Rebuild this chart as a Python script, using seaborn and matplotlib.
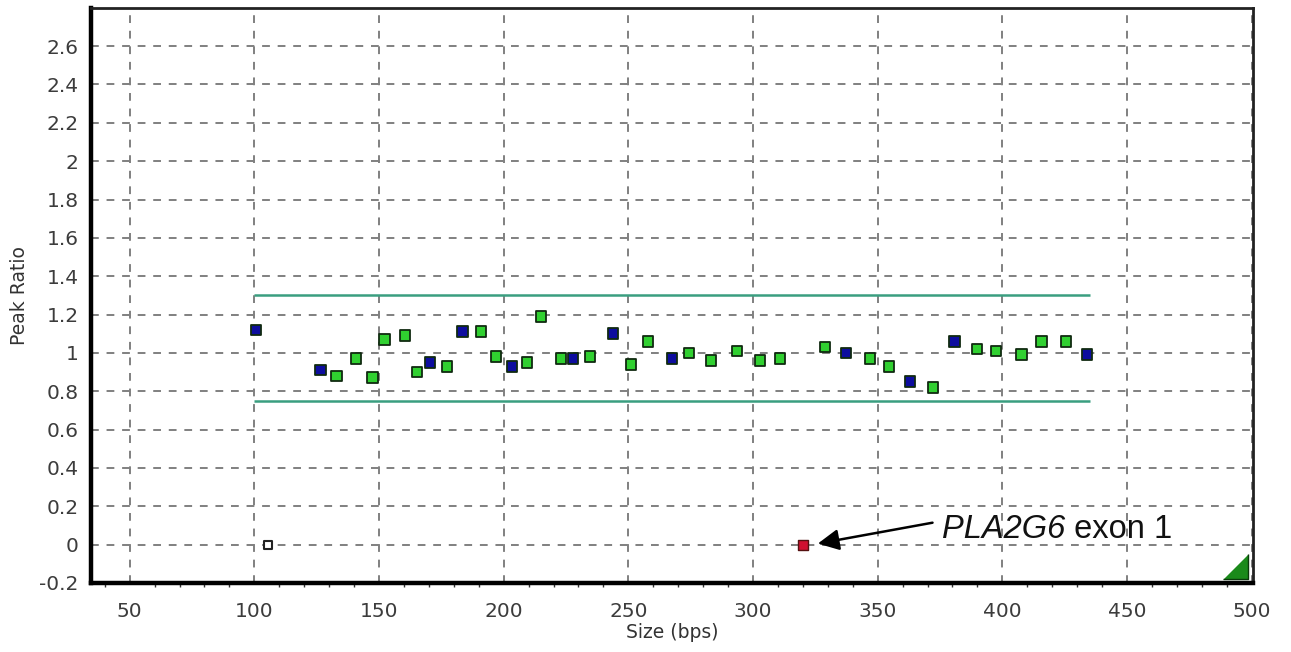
import numpy as np
import pandas as pd
import matplotlib
matplotlib.use("Agg")
import matplotlib.pyplot as plt
import seaborn as sns

# 프로브 크기(bp)와 peak ratio
size_bp = [100.6, 126.6, 133.0, 140.7, 147.5, 152.3, 160.4, 165.2, 170.4, 177.2,
           183.6, 190.9, 196.9, 203.3, 209.3, 214.9, 223.0, 227.8, 234.6, 243.8,
           251.0, 257.9, 267.5, 274.3, 283.1, 293.6, 302.8, 310.8, 328.9, 337.3,
           346.9, 354.6, 363.0, 372.2, 380.7, 389.9, 397.5, 407.6, 415.6, 425.6,
           434.0]
peak_ratio = [1.12, 0.91, 0.88, 0.97, 0.87, 1.07, 1.09, 0.90, 0.95, 0.93,
              1.11, 1.11, 0.98, 0.93, 0.95, 1.19, 0.97, 0.97, 0.98, 1.10,
              0.94, 1.06, 0.97, 1.00, 0.96, 1.01, 0.96, 0.97, 1.03, 1.00,
              0.97, 0.93, 0.85, 0.82, 1.06, 1.02, 1.01, 0.99, 1.06, 1.06,
              0.99]
probe_type = ['ref', 'ref', 'test', 'test', 'test', 'test', 'test', 'test', 'ref', 'test',
              'ref', 'test', 'test', 'ref', 'test', 'test', 'test', 'ref', 'test', 'ref',
              'test', 'test', 'ref', 'test', 'test', 'test', 'test', 'test', 'test', 'ref',
              'test', 'test', 'ref', 'test', 'ref', 'test', 'test', 'test', 'test', 'test',
              'ref']

# 결실 프로브 / 빈 프로브
deleted_x, deleted_y = [320.0], [0.0]
empty_x, empty_y = [105.4], [0.0]

# 기준선
upper_limit = 1.3
lower_limit = 0.75
limit_start, limit_end = 100, 435

x_ticks = [50, 100, 150, 200, 250, 300, 350, 400, 450, 500]
y_ticks = [-0.2, 0, 0.2, 0.4, 0.6, 0.8, 1, 1.2, 1.4, 1.6, 1.8, 2, 2.2, 2.4, 2.6]
y_tick_labels = ['-0.2', '0', '0.2', '0.4', '0.6', '0.8', '1', '1.2', '1.4', '1.6',
                 '1.8', '2', '2.2', '2.4', '2.6']

df = pd.DataFrame({'size': size_bp, 'ratio': peak_ratio, 'type': probe_type})

sns.set_style("white")
plt.rcParams['font.family'] = ['DejaVu Sans']

fig = plt.figure(figsize=(12.91, 6.52), dpi=100)
ax = fig.add_axes([0.0705, 0.106, 0.9, 0.882])

# 격자
ax.set_axisbelow(True)
ax.grid(True, color='#808080', linestyle=(0, (4, 4)), linewidth=1.4)

# 기준선
ax.hlines([upper_limit, lower_limit], limit_start, limit_end, color='#3a9e80', linewidth=1.8, zorder=2)

# 데이터 포인트
sns.scatterplot(data=df, x='size', y='ratio', hue='type', marker='s', s=58,
                palette={'ref': '#0d0d9e', 'test': '#30d030'},
                edgecolor='#102a10', linewidth=1.3, legend=False, ax=ax, zorder=3)
ax.scatter(empty_x, empty_y, marker='s', s=40, facecolor='white', edgecolor='#222222',
           linewidth=1.5, zorder=3)
ax.scatter(deleted_x, deleted_y, marker='s', s=45, facecolor='#d01030', edgecolor='#551111',
           linewidth=1.0, zorder=3)

# 주석 (이탤릭 유전자명 + 일반 글자)
ax.annotate('', xy=(326, 0.005), xytext=(372, 0.114),
            arrowprops=dict(arrowstyle='-|>', color='black', lw=1.8,
                            mutation_scale=32, shrinkA=0, shrinkB=0, fc='black'))
t1 = ax.text(375.8, 0.078, 'PLA2G6', fontsize=23.5, fontstyle='italic',
             fontfamily='Liberation Sans', color='#111111', va='center', ha='left')
ax.annotate(' exon 1', xy=(1, 0.5), xycoords=t1, fontsize=23.5,
            fontfamily='Liberation Sans', color='#111111', va='center', ha='left')

# 우측 하단 삼각형
ax.plot([0.9845], [0.029], transform=ax.transAxes, marker=[(-1, -1), (1, -1), (1, 1)],
        markersize=18, color='#1a8a1a', markeredgecolor='#0a3a0a', clip_on=False, zorder=4)

ax.set_xlim(34.5, 500.5)
ax.set_ylim(-0.2, 2.8)
ax.set_xticks(x_ticks)
ax.set_xticks(np.arange(40, 500, 10), minor=True)
ax.set_yticks(y_ticks)
ax.set_yticklabels(y_tick_labels)
ax.tick_params(axis='both', which='major', labelsize=14.5, colors='#3c3c3c',
               length=6, width=1.3, direction='out', pad=3)
ax.tick_params(axis='x', which='minor', length=3, width=1, color='#333333', bottom=True)
ax.tick_params(axis='x', which='major', pad=8)

ax.set_xlabel('Size (bps)', fontsize=13.5, color='#333333')
ax.set_ylabel('Peak Ratio', fontsize=13.5, color='#333333')
ax.xaxis.set_label_coords(0.5, -0.069)
ax.yaxis.set_label_coords(-0.053, 0.5)

for side in ['left', 'bottom']:
    ax.spines[side].set_linewidth(3.2)
    ax.spines[side].set_color('black')
for side in ['top', 'right']:
    ax.spines[side].set_linewidth(2)
    ax.spines[side].set_color('#222222')

fig.savefig('out.png', dpi=100)
